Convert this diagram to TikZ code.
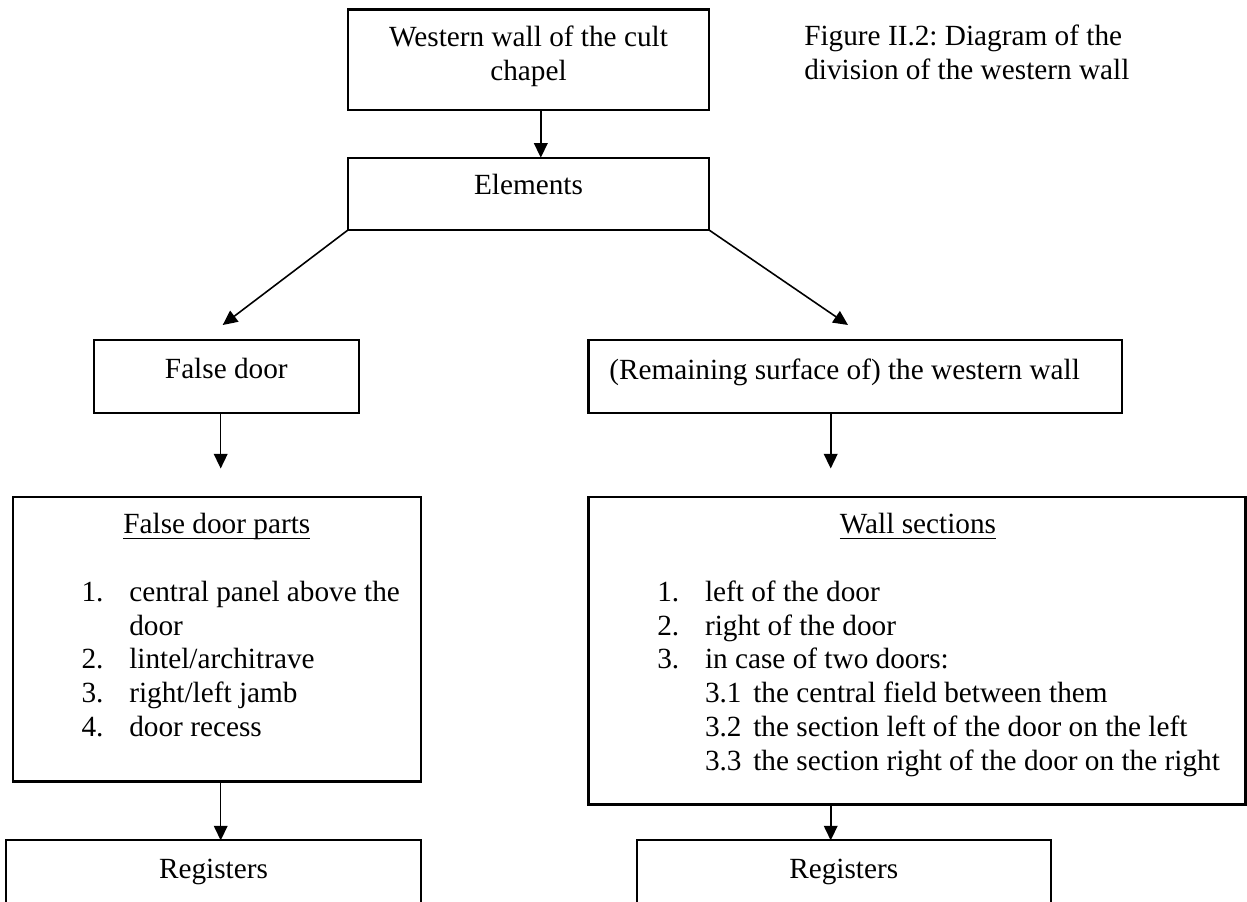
\documentclass[tikz,border=0pt]{standalone}
\usepackage{fontspec}
\setmainfont{Liberation Serif}
\usetikzlibrary{arrows.meta}
\frenchspacing
% underline at a fixed depth below the baseline
\newcommand\ultext[1]{\setbox0\hbox{#1}\rlap{\rule[-2.2pt]{\wd0}{0.6pt}}\box0}
\def\u{0.41pt}
\begin{document}
\begin{tikzpicture}[x=0.41pt,y=-0.41pt,
  box/.style={draw,line width=0.85pt,inner sep=0pt,outer sep=0pt},
  arr/.style={line width=0.65pt,-{Triangle[length=6pt,width=5.6pt]}},
  txt/.style={inner sep=0pt,outer sep=0pt,font=\fontsize{12}{13.8}\selectfont},
  lbl/.style={txt,anchor=base},
  lbw/.style={txt,anchor=base west}]
\useasboundingbox (0,0) rectangle (1247,901);
\clip (0,0) rectangle (1247,901);

% boxes
\node[box,minimum width=361*\u,minimum height=100.5*\u] (top) at (528.5,59.75) {};
\node[box,minimum width=361*\u,minimum height=72.3*\u] (elem) at (528.5,193.85) {};
\node[box,minimum width=264.7*\u,minimum height=72.6*\u] (fd) at (226.35,376.3) {};
\node[box,minimum width=533.5*\u,minimum height=72.6*\u] (rs) at (855.25,376.3) {};
\node[box,minimum width=408.3*\u,minimum height=284.1*\u] (fdp) at (216.85,639.45) {};
\node[box,minimum width=657*\u,minimum height=307.1*\u] (ws) at (917,650.95) {};
\node[box,minimum width=414.6*\u,minimum height=119.6*\u] (reg1) at (213.7,900.2) {};
\node[box,minimum width=414*\u,minimum height=119.6*\u] (reg2) at (843.7,900.2) {};

% texts
\node[lbl] (top-a) at (528.5,46.7) {Western wall of the cult};
\node[lbl] (top-b) at (528.5,81) {chapel};
\node[lbw] (cap-a) at (804.3,46) {Figure II.2: Diagram of the};
\node[lbw] (cap-b) at (804.3,79.5) {division of the western wall};
\node[lbl] (elem-t) at (528.5,195) {Elements};
\node[lbl] (fd-t) at (226.35,378.6) {False door};
\node[lbw] (rs-t) at (609.3,379) {(Remaining surface of) the western wall};

\node[lbl] (fdp-t) at (216.85,533.8) {\ultext{False door parts}};
\node[lbw] (fdp-n1) at (81.6,601.5) {1.};
\node[lbw] (fdp-i1) at (129.3,601.5) {central panel above the};
\node[lbw] (fdp-i1b) at (129.3,635.2) {door};
\node[lbw] (fdp-n2) at (81.6,668.9) {2.};
\node[lbw] (fdp-i2) at (129.3,668.9) {lintel/architrave};
\node[lbw] (fdp-n3) at (81.6,702.7) {3.};
\node[lbw] (fdp-i3) at (129.3,702.7) {right/left jamb};
\node[lbw] (fdp-n4) at (81.6,736.4) {4.};
\node[lbw] (fdp-i4) at (129.3,736.4) {door recess};

\node[lbl] (ws-t) at (918,533.8) {\ultext{Wall sections}};
\node[lbw] (ws-n1) at (657.3,601.5) {1.};
\node[lbw] (ws-i1) at (705,601.5) {left of the door};
\node[lbw] (ws-n2) at (657.3,635.2) {2.};
\node[lbw] (ws-i2) at (705,635.2) {right of the door};
\node[lbw] (ws-n3) at (657.3,668.9) {3.};
\node[lbw] (ws-i3) at (705,668.9) {in case of two doors:};
\node[lbw] (ws-n31) at (705,702.7) {3.1};
\node[lbw] (ws-i31) at (753.3,702.7) {the central field between them};
\node[lbw] (ws-n32) at (705,736.4) {3.2};
\node[lbw] (ws-i32) at (753.3,736.4) {the section left of the door on the left};
\node[lbw] (ws-n33) at (705,770.1) {3.3};
\node[lbw] (ws-i33) at (753.3,770.1) {the section right of the door on the right};

\node[lbl] (reg1-t) at (213.5,878.8) {Registers};
\node[lbl] (reg2-t) at (843.7,878.8) {Registers};

% connectors
\coordinate (ax) at (540.8,0);
\coordinate (tipL) at (222.7,325);
\coordinate (tipR) at (848,325);
\coordinate (dnL) at (220.7,468.5);
\coordinate (dnR) at (830.7,468.5);
\draw[arr] (top.south -| ax) -- (elem.north -| ax);
\draw[arr] (elem.south west) -- (tipL);
\draw[arr] (elem.south east) -- (tipR);
\draw[arr] (fd.south -| dnL) -- (dnL);
\draw[arr] (rs.south -| dnR) -- (dnR);
\draw[arr] (fdp.south -| dnL) -- (reg1.north -| dnL);
\draw[arr] (ws.south -| dnR) -- (reg2.north -| dnR);
\end{tikzpicture}
\end{document}
